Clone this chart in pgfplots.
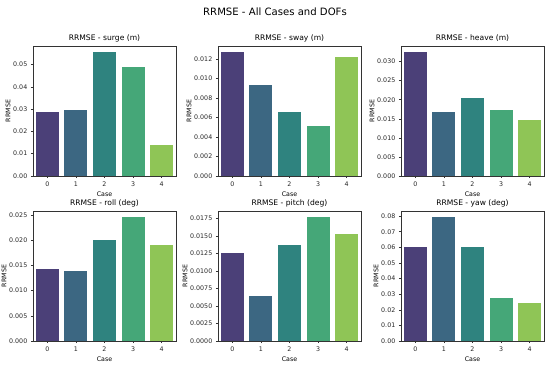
\documentclass[border=0pt]{standalone}
\usepackage{pgfplots}
\pgfplotsset{compat=1.18}
\usepackage{fontspec}
\setmainfont{DejaVu Sans}
\definecolor{c0}{HTML}{4B4078}
\definecolor{c1}{HTML}{3C6782}
\definecolor{c2}{HTML}{2F837F}
\definecolor{c3}{HTML}{45A778}
\definecolor{c4}{HTML}{8FC556}
\definecolor{spine}{HTML}{333333}
\pgfplotsset{
  panel/.style={
    scale only axis, width=143pt, height=130pt,
    anchor=south west,
    xmin=-0.5, xmax=4.5, ymin=0,
    xtick={0,1,2,3,4},
    axis line style={spine, line width=0.5pt},
    tick style={spine, line width=0.5pt},
    tick align=outside, major tick length=2.2pt,
    xtick pos=bottom, ytick pos=left,
    tick label style={font=\fontsize{6.3}{7}\selectfont, text=black!85},
    /pgf/number format/assume math mode=true,
    yticklabel style={/pgf/number format/fixed, /pgf/number format/fixed zerofill},
    scaled y ticks=false,
    every axis title shift=0pt,
    title style={font=\fontsize{7.6}{9}\selectfont, at={(0.5,1)}, anchor=south, yshift=0.5pt},
    label style={font=\fontsize{6.3}{7}\selectfont},
    ylabel={RRMSE},
    ylabel style={yshift=-4pt},
    xlabel style={yshift=2pt},
  },
  bar/.style={ybar, bar width=0.8, draw=none, fill=#1},
}
\begin{document}
\begin{tikzpicture}
\useasboundingbox (0,0) rectangle (550pt,366pt);
\node[font=\fontsize{10.1}{12}\selectfont] at (275pt,354pt) {RRMSE - All Cases and DOFs};

% surge
\begin{axis}[panel, at={(33pt,190pt)}, title={RRMSE - surge (m)}, xlabel={Case},
  ymax=0.0583, ytick={0,0.01,0.02,0.03,0.04,0.05},
  yticklabel style={/pgf/number format/precision=2}]
\addplot[bar=c0] coordinates {(0,0.0285)};
\addplot[bar=c1] coordinates {(1,0.0297)};
\addplot[bar=c2] coordinates {(2,0.0555)};
\addplot[bar=c3] coordinates {(3,0.0490)};
\addplot[bar=c4] coordinates {(4,0.0137)};
\end{axis}

% sway
\begin{axis}[panel, at={(218pt,190pt)}, title={RRMSE - sway (m)}, xlabel={Case},
  ymax=0.01334, ytick={0,0.002,0.004,0.006,0.008,0.010,0.012},
  yticklabel style={/pgf/number format/precision=3}]
\addplot[bar=c0] coordinates {(0,0.0127)};
\addplot[bar=c1] coordinates {(1,0.00932)};
\addplot[bar=c2] coordinates {(2,0.0066)};
\addplot[bar=c3] coordinates {(3,0.00508)};
\addplot[bar=c4] coordinates {(4,0.01224)};
\end{axis}

% heave
\begin{axis}[panel, at={(401pt,190pt)}, title={RRMSE - heave (m)}, xlabel={Case},
  ymax=0.0341, ytick={0,0.005,0.010,0.015,0.020,0.025,0.030},
  yticklabel style={/pgf/number format/precision=3}]
\addplot[bar=c0] coordinates {(0,0.03247)};
\addplot[bar=c1] coordinates {(1,0.0168)};
\addplot[bar=c2] coordinates {(2,0.02037)};
\addplot[bar=c3] coordinates {(3,0.01726)};
\addplot[bar=c4] coordinates {(4,0.0147)};
\end{axis}

% roll
\begin{axis}[panel, at={(33pt,25pt)}, title={RRMSE - roll (deg)}, xlabel={Case},
  ymax=0.02583, ytick={0,0.005,0.010,0.015,0.020,0.025},
  yticklabel style={/pgf/number format/precision=3}]
\addplot[bar=c0] coordinates {(0,0.01435)};
\addplot[bar=c1] coordinates {(1,0.0139)};
\addplot[bar=c2] coordinates {(2,0.0201)};
\addplot[bar=c3] coordinates {(3,0.0246)};
\addplot[bar=c4] coordinates {(4,0.0190)};
\end{axis}

% pitch
\begin{axis}[panel, at={(218pt,25pt)}, title={RRMSE - pitch (deg)}, xlabel={Case},
  ymax=0.01856, ytick={0,0.0025,0.0050,0.0075,0.0100,0.0125,0.0150,0.0175},
  yticklabel style={/pgf/number format/precision=4}]
\addplot[bar=c0] coordinates {(0,0.01255)};
\addplot[bar=c1] coordinates {(1,0.00644)};
\addplot[bar=c2] coordinates {(2,0.0137)};
\addplot[bar=c3] coordinates {(3,0.01768)};
\addplot[bar=c4] coordinates {(4,0.01526)};
\end{axis}

% yaw
\begin{axis}[panel, at={(401pt,25pt)}, title={RRMSE - yaw (deg)}, xlabel={Case},
  ymax=0.0833, ytick={0,0.01,0.02,0.03,0.04,0.05,0.06,0.07,0.08},
  yticklabel style={/pgf/number format/precision=2}]
\addplot[bar=c0] coordinates {(0,0.0604)};
\addplot[bar=c1] coordinates {(1,0.0793)};
\addplot[bar=c2] coordinates {(2,0.0604)};
\addplot[bar=c3] coordinates {(3,0.0274)};
\addplot[bar=c4] coordinates {(4,0.0243)};
\end{axis}
\end{tikzpicture}
\end{document}
